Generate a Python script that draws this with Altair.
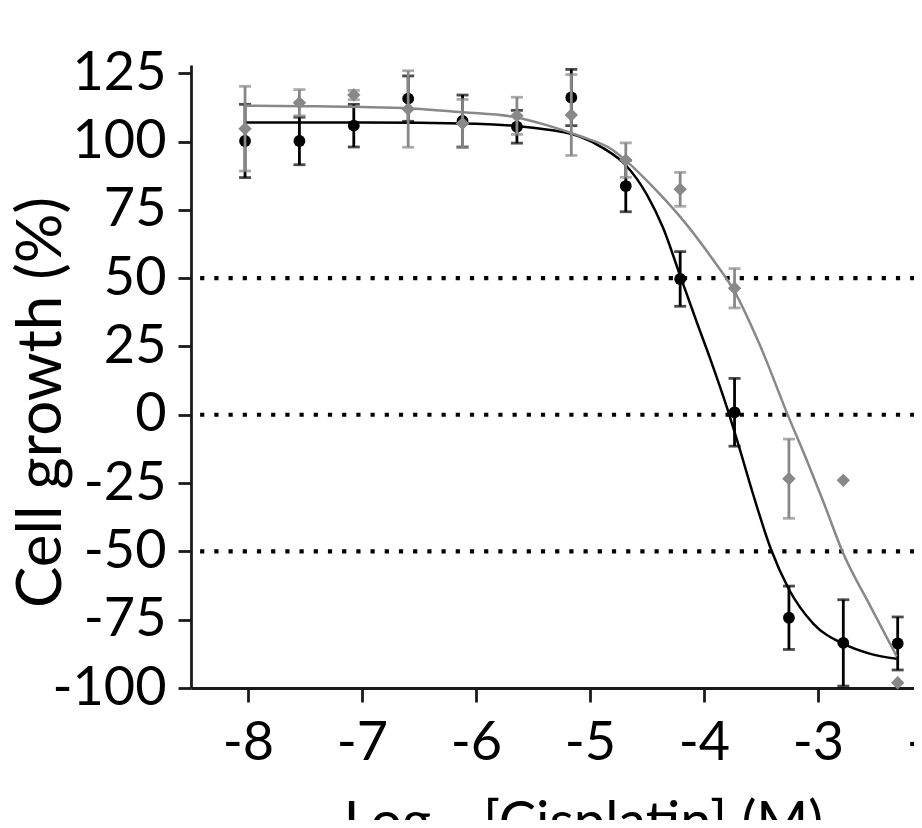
import altair as alt
import pandas as pd

# ---- data ----
log_conc = [-8.026, -7.549, -7.072, -6.595, -6.118, -5.641, -5.164,
            -4.686, -4.209, -3.732, -3.255, -2.778, -2.301]
black_mean = [100.2, 100.2, 105.8, 115.7, 107.5, 105.4, 116.1,
              83.7, 49.7, 0.9, -74.3, -83.5, -83.7]
black_err = [13.4, 8.7, 7.8, 8.3, 9.5, 6.0, 10.3,
             9.4, 10.0, 12.4, 11.6, 15.8, 9.7]
grey_mean = [104.7, 114.2, 117.0, 111.9, 106.6, 109.4, 109.7,
             93.2, 82.5, 46.3, -23.4, -24.0, -98.1]
grey_err = [15.5, 4.8, 1.7, 14.0, 8.8, 6.8, 14.8,
            6.3, 6.2, 7.2, 14.5, 0.0, 0.0]

black_fit_x = [-8.03, -7.0, -6.0, -5.5, -5.09, -4.88, -4.69, -4.5, -4.36, -4.21,
               -4.06, -3.95, -3.79, -3.68, -3.57, -3.41, -3.26, -3.04, -2.78, -2.54, -2.31]
black_fit_y = [107.0, 107.0, 106.5, 105.0, 101.8, 97.5, 91.5, 80.5, 68.5, 51.0,
               33.5, 21.0, 1.5, -13.5, -29.0, -49.5, -63.5, -76.5, -83.8, -87.5, -89.3]
grey_fit_x = [-8.03, -7.5, -7.0, -6.58, -6.11, -5.64, -5.38, -5.09, -4.80, -4.69,
              -4.45, -4.21, -3.92, -3.74, -3.51, -3.26, -3.10, -2.96, -2.78, -2.54, -2.31]
grey_fit_y = [113.1, 112.9, 112.6, 112.1, 110.7, 108.8, 106.0, 102.0, 96.9, 93.2,
              83.5, 72.5, 56.7, 45.7, 25.5, -0.6, -16.5, -31.1, -50.6, -70.1, -88.4]

ref_levels = [50, 0, -50]
ref_x_start = -8.42
x_ticks = [-8, -7, -6, -5, -4, -3, -2]
y_ticks = [-100, -75, -50, -25, 0, 25, 50, 75, 100, 125]
x_domain = [-8.5, -1.5]
y_domain = [-100, 128]

BLACK = "#000000"
GREY = "#888888"
AXIS = "#1a1a1a"
FONT = "Lato"

# ---- tables ----
def err_tables(xs, means, errs):
    rows, caps = [], []
    for x, m, e in zip(xs, means, errs):
        if e <= 0:
            continue
        rows.append({"x": x, "y": m - e, "y2": m + e})
        caps.append({"x": x, "y": m - e})
        caps.append({"x": x, "y": m + e})
    return pd.DataFrame(rows), pd.DataFrame(caps)

b_err, b_caps = err_tables(log_conc, black_mean, black_err)
g_err, g_caps = err_tables(log_conc, grey_mean, grey_err)
b_pts = pd.DataFrame({"x": log_conc, "y": black_mean})
g_pts = pd.DataFrame({"x": log_conc, "y": grey_mean})
b_fit = pd.DataFrame({"x": black_fit_x, "y": black_fit_y})
g_fit = pd.DataFrame({"x": grey_fit_x, "y": grey_fit_y})
refs = pd.DataFrame({"x": [ref_x_start] * len(ref_levels),
                     "x2": [x_domain[1]] * len(ref_levels),
                     "y": ref_levels})

x_axis = alt.Axis(values=x_ticks, labelExpr="'' + datum.value",
                  title="Log₁₀ [Cisplatin] (M)", titleFont=FONT, titleFontSize=56,
                  titleFontWeight="normal", titleColor=BLACK,
                  titleX=392, titleY=152, titleAlign="center", titleBaseline="alphabetic",
                  labelFont=FONT, labelFontSize=54, labelColor=BLACK, labelPadding=14,
                  labelFlush=False, labelOverlap=False,
                  tickSize=14, tickWidth=2.8, tickColor=AXIS,
                  domainColor=AXIS, domainWidth=2.8, grid=False)
y_axis = alt.Axis(values=y_ticks, labelExpr="'' + datum.value",
                  title="Cell growth (%)", titleFont=FONT, titleFontSize=62,
                  titleFontWeight="normal", titleColor=BLACK,
                  titleAngle=270, titleX=-131, titleY=337, titleAlign="center",
                  titleBaseline="alphabetic",
                  labelFont=FONT, labelFontSize=54, labelColor=BLACK, labelPadding=12,
                  labelFlush=False, labelOverlap=False,
                  tickSize=13, tickWidth=2.8, tickColor=AXIS,
                  domainColor=AXIS, domainWidth=2.8, grid=False)

xs = alt.Scale(domain=x_domain, nice=False, zero=False)
ys = alt.Scale(domain=y_domain, nice=False, zero=False)

def X(field="x"):
    return alt.X(f"{field}:Q", scale=xs, axis=x_axis)

def Y(field="y"):
    return alt.Y(f"{field}:Q", scale=ys, axis=y_axis)

ref_layer = alt.Chart(refs).mark_rule(color=BLACK, strokeWidth=4.2, strokeDash=[4.2, 10],
                                      strokeCap="butt").encode(
    x=X(), x2="x2:Q", y=Y())

def series(err, caps, fit, pts, color, shape, size):
    e = alt.Chart(err).mark_rule(color=color, strokeWidth=2.8).encode(x=X(), y=Y(), y2="y2:Q")
    c = alt.Chart(caps).mark_tick(color=color, orient="horizontal", size=12,
                                  thickness=2.8).encode(x=X(), y=Y())
    l = alt.Chart(fit).mark_line(color=color, strokeWidth=2.5,
                                 interpolate="monotone").encode(x=X(), y=Y())
    p = alt.Chart(pts).mark_point(shape=shape, filled=True, size=size, color=color,
                                  opacity=1).encode(x=X(), y=Y())
    return [e, c, l, p]

layers = [ref_layer]
layers += series(b_err, b_caps, b_fit, b_pts, BLACK, "circle", 140)
layers += series(g_err, g_caps, g_fit, g_pts, GREY, "diamond", 180)

chart = alt.layer(*layers).properties(
    width=798, height=623,
    autosize=alt.AutoSizeParams(type="none"),
    padding={"left": 183, "top": 57, "right": -75, "bottom": 132},
    background="white",
).configure(font=FONT).configure_view(strokeWidth=0, stroke="transparent")

chart.save("out.html", embed_options={"renderer": "svg", "actions": False})
